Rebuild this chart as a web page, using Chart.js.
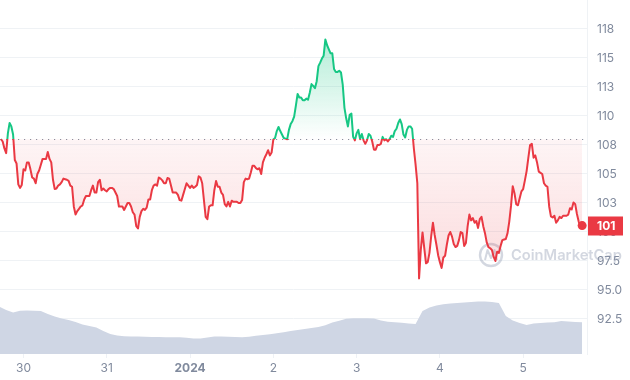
<!DOCTYPE html>
<html><head><meta charset="utf-8">
<script src="https://cdn.jsdelivr.net/npm/chart.js@4.4.1/dist/chart.umd.min.js"></script>
<style>html,body{margin:0;padding:0;background:#fff}#wrap{width:630px;height:380px}</style>
</head><body><div id="wrap"><canvas id="c" width="630" height="380"></canvas></div>
<script>
// x axis: hours since 30 Dec 00:00
const dayTicks = [0, 24, 48, 72, 96, 120, 144];
const dayLabels = ['30', '31', '2024', '2', '3', '4', '5'];
const priceTicks = [92.5, 95, 97.5, 100, 102.5, 105, 107.5, 110, 112.5, 115, 117.5];

// price every 30 minutes, starting 29 Dec 17:30
const priceStart = -6.5, priceStep = 0.5;
const prices = [
108.0,107.8,107.2,106.8,108.5,109.4,109.1,108.4,106.2,105.9,
104.1,103.8,104.05,105.4,105.3,106.0,106.0,105.4,104.7,104.6,
104.2,105.0,105.3,105.8,106.3,106.3,106.3,106.9,106.3,106.0,
104.5,103.7,103.75,104.0,104.1,104.3,104.6,104.55,104.5,104.4,
104.0,103.9,102.2,101.5,101.8,102.0,102.2,102.3,102.8,103.1,
103.1,103.1,103.6,104.0,103.4,103.4,104.3,104.5,103.6,103.75,
103.6,103.5,103.7,103.8,103.8,103.7,103.4,103.1,102.2,102.2,
102.2,101.9,102.2,102.5,102.5,102.2,101.7,101.5,100.5,100.3,
101.3,101.8,102.0,101.9,102.1,102.8,102.8,103.6,104.0,104.1,
104.0,104.7,104.6,104.45,104.2,104.2,104.65,104.6,104.0,103.4,
103.4,103.4,103.2,102.75,102.7,103.2,103.7,104.2,104.0,103.8,
104.0,103.8,103.9,104.05,104.8,104.7,104.2,102.75,101.3,101.1,
102.2,102.3,102.3,103.6,104.4,103.9,103.9,103.4,103.2,102.4,
102.2,102.6,102.2,102.7,102.6,102.6,102.6,102.5,102.5,102.75,
104.3,104.6,104.55,104.6,105.1,105.7,105.7,105.5,105.4,105.5,
105.0,106.0,106.4,106.7,107.05,106.6,106.85,107.97,108.1,108.7,
109.05,108.7,108.4,108.1,108.05,108.0,108.8,109.3,109.55,109.95,
110.9,111.9,111.6,111.6,111.35,111.35,111.5,111.4,112.0,112.75,
112.6,112.4,113.0,114.3,114.6,114.95,115.2,116.6,116.1,115.75,
115.4,115.4,114.05,113.8,113.8,113.9,113.75,112.7,110.7,109.8,
109.1,110.1,110.2,108.2,107.9,108.5,108.8,108.0,108.45,107.9,
107.6,107.9,108.45,108.3,107.8,107.1,107.1,107.5,107.5,107.6,
108.2,107.9,108.0,107.8,108.0,108.3,108.2,108.7,108.9,109.4,
109.7,109.3,108.4,108.15,108.8,109.1,109.1,108.9,107.2,105.8,
104.2,96.0,98.45,99.96,98.6,97.3,97.4,98.2,99.65,100.8,
99.74,98.9,98.0,97.4,96.9,97.8,97.95,98.9,99.7,100.0,
99.6,98.97,98.7,98.8,99.3,100.0,99.9,98.8,99.05,100.5,
101.5,101.0,101.2,100.8,100.95,100.35,101.1,101.3,100.5,99.9,
99.1,98.7,98.6,98.45,97.85,97.5,98.3,98.2,98.8,99.3,
99.35,99.4,99.9,100.9,102.25,103.95,103.35,102.4,102.3,102.9,
103.5,103.7,104.45,105.25,106.4,107.5,107.6,106.4,106.6,106.0,
105.2,105.1,105.0,104.2,104.0,103.9,102.2,101.35,101.25,101.4,
100.8,101.0,101.3,101.2,101.4,101.4,101.4,101.5,102.05,101.95,
102.55,102.4,101.55,100.9,100.4,100.55
];

// volume every 2 hours (millions)
const volumeStart = -7, volumeStep = 2;
const volumes = [
94.6,88,83,86.6,87,86.6,86,80,75,71,
68,64,59,56,53,46,40,37,35.6,35.2,
34.8,34.4,34,33.8,33.6,33.4,33.4,32.4,31,31.2,
33,34.8,35,34.4,34,33.6,34.6,36.4,37.8,39.6,
41.6,43.6,46,48,50,52,54,57.6,63,66.6,
70.4,71.4,71.4,71.4,71,67,64.4,63.6,62.6,61,
60,86,93,97,99.6,101,102,103,104,105,
105,104,102,76,67,62,58,61.2,62,62.8,
63.4,66,65,64,63.4
];

const GREEN = '#16c784', RED = '#ea3943';
const base = prices[0];
const priceData = prices.map((v, i) => ({ x: priceStart + i * priceStep, y: v }));
const volumeData = volumes.map((v, i) => ({ x: volumeStart + i * volumeStep, y: v }));
const lastIdx = prices.length - 1;

function splitStroke(ctx) {
  const ch = ctx.chart, a = ch.chartArea;
  if (!a) return RED;
  const yb = ch.scales.y.getPixelForValue(base);
  const f = Math.min(1, Math.max(0, (yb - a.top) / (a.bottom - a.top)));
  const g = ch.ctx.createLinearGradient(0, a.top, 0, a.bottom);
  g.addColorStop(0, GREEN); g.addColorStop(f, GREEN);
  g.addColorStop(f, RED); g.addColorStop(1, RED);
  return g;
}
function splitFill(ctx) {
  const ch = ctx.chart, a = ch.chartArea;
  if (!a) return 'rgba(234,57,67,0.1)';
  const y = ch.scales.y;
  const yb = y.getPixelForValue(base);
  const yTop = y.getPixelForValue(Math.max(...prices));
  const f = Math.min(1, Math.max(0, (yb - yTop) / (a.bottom - yTop)));
  const g = ch.ctx.createLinearGradient(0, yTop, 0, a.bottom);
  g.addColorStop(0, 'rgba(22,199,132,0.32)');
  g.addColorStop(f, 'rgba(22,199,132,0.0)');
  g.addColorStop(f, 'rgba(234,57,67,0.05)');
  g.addColorStop(1, 'rgba(234,57,67,0.26)');
  return g;
}

const deco = {
  id: 'deco',
  beforeDatasetsDraw(chart) {
    const { ctx, chartArea: a, scales: { y } } = chart;
    // watermark
    ctx.save();
    const wm = 'rgba(150,160,180,0.42)';
    ctx.strokeStyle = wm; ctx.fillStyle = wm; ctx.lineWidth = 2.4;
    ctx.beginPath(); ctx.arc(491, 255, 11, 0, Math.PI * 2); ctx.stroke();
    ctx.lineJoin = 'round'; ctx.lineWidth = 2;
    ctx.beginPath();
    ctx.moveTo(485, 260); ctx.lineTo(487.5, 250); ctx.lineTo(491, 258); ctx.lineTo(494.5, 250); ctx.lineTo(497, 260);
    ctx.stroke();
    ctx.font = '600 14.7px Inter';
    ctx.textBaseline = 'middle'; ctx.textAlign = 'left';
    ctx.fillText('CoinMarketCap', 511, 256);
    ctx.restore();
    // baseline
    const yb = Math.round(y.getPixelForValue(base)) + 0.5;
    ctx.save();
    ctx.strokeStyle = '#8a91a0'; ctx.lineWidth = 1; ctx.setLineDash([1.2, 4.8]);
    ctx.beginPath(); ctx.moveTo(a.left, yb); ctx.lineTo(a.right, yb); ctx.stroke();
    ctx.restore();
  },
  afterDraw(chart) {
    const { ctx, chartArea: a, scales: { y } } = chart;
    const last = prices[lastIdx];
    const yp = y.getPixelForValue(last);
    ctx.save();
    ctx.fillStyle = RED;
    ctx.fillRect(a.right + 1, Math.round(yp) - 9.5, 35, 19);
    ctx.fillStyle = '#fff';
    ctx.font = 'bold 12px Inter';
    ctx.textBaseline = 'middle'; ctx.textAlign = 'left';
    ctx.fillText(String(Math.round(last)), a.right + 10, yp + 0.5);
    ctx.restore();
  }
};

function noPad(s) { s.paddingTop = 0; s.paddingBottom = 0; s.paddingLeft = 0; s.paddingRight = 0; }

new Chart(document.getElementById('c'), {
  type: 'line',
  data: {
    datasets: [
      {
        data: priceData,
        yAxisID: 'y',
        order: 1,
        borderWidth: 2,
        borderColor: splitStroke,
        backgroundColor: splitFill,
        fill: { target: { value: base } },
        tension: 0,
        borderJoinStyle: 'round',
        pointRadius: c => (c.dataIndex === lastIdx ? 4.5 : 0),
        pointBackgroundColor: RED,
        pointBorderWidth: 0,
        pointHoverRadius: 0
      },
      {
        data: volumeData,
        yAxisID: 'y2',
        order: 2,
        borderWidth: 0,
        backgroundColor: '#cfd6e4',
        fill: 'origin',
        tension: 0,
        pointRadius: 0
      }
    ]
  },
  options: {
    responsive: false,
    animation: false,
    devicePixelRatio: 1,
    layout: { padding: 0, autoPadding: false },
    plugins: { legend: { display: false }, tooltip: { enabled: false } },
    scales: {
      x: {
        type: 'linear', position: 'bottom', min: -6.77, max: 162.4,
        grid: { drawOnChartArea: false, drawTicks: true, tickLength: 4, color: '#eef1f5' },
        border: { display: false },
        afterBuildTicks: s => { s.ticks = dayTicks.map(v => ({ value: v })); },
        afterFit: s => { s.height = 26; noPad(s); },
        ticks: {
          autoSkip: false, maxRotation: 0, padding: 3, color: '#808a9d',
          font: c => ({ family: 'Inter', size: 12, weight: (c.tick && c.tick.value === 48) ? 'bold' : 'normal' }),
          callback: v => { const i = dayTicks.indexOf(v); return i >= 0 ? dayLabels[i] : ''; }
        }
      },
      y: {
        type: 'linear', position: 'right', min: 89.48, max: 120,
        grid: { color: '#eff2f5', drawTicks: false },
        border: { display: true, color: '#eff2f5' },
        afterBuildTicks: s => { s.ticks = priceTicks.map(v => ({ value: v })); },
        afterFit: s => { s.width = 43; noPad(s); },
        ticks: {
          padding: 10, color: '#808a9d', font: { family: 'Inter', size: 12 },
          callback: v => (v >= 100 ? String(Math.round(v)) : v.toFixed(1))
        }
      },
      y2: { type: 'linear', display: false, min: 0, max: 708, afterFit: noPad }
    }
  },
  plugins: [deco]
});
</script>
</body></html>
